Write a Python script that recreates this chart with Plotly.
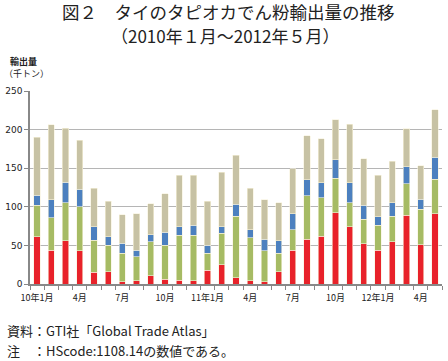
import plotly.graph_objects as go

months = list(range(29))  # Jan 2010 .. May 2012
red = [61, 44, 56, 43, 15, 16, 3, 4, 11, 6, 5, 4, 18, 25, 8, 4, 3, 16, 44, 58, 62, 92, 74, 52, 44, 55, 89, 51, 91]
green = [41, 42, 49, 57, 42, 34, 37, 31, 44, 44, 58, 59, 22, 41, 80, 56, 40, 24, 26, 56, 50, 45, 31, 32, 32, 33, 41, 46, 45]
blue = [13, 23, 27, 23, 17, 11, 13, 9, 9, 17, 11, 13, 10, 8, 15, 10, 15, 16, 21, 21, 19, 24, 26, 18, 11, 17, 22, 13, 28]
beige = [75, 97, 70, 63, 50, 46, 37, 47, 40, 50, 67, 65, 57, 71, 64, 54, 51, 49, 58, 57, 57, 52, 76, 60, 54, 54, 49, 43, 62]

tick_pos = [0, 3, 6, 9, 12, 15, 18, 21, 24, 27]
tick_labels = ["10年1月", "4月", "7月", "10月", "11年1月", "4月", "7月", "10月", "12年1月", "4月"]

series = [
    (red, "#e8222a"),
    (green, "#a6bb64"),
    (blue, "#4c80bf"),
    (beige, "#c7c2a4"),
]

fig = go.Figure()
for vals, col in series:
    fig.add_trace(go.Bar(
        x=months, y=vals, marker=dict(color=col, line=dict(color="#f6f1dc", width=0.6)),
        width=0.44, showlegend=False, hoverinfo="skip",
    ))

PL, PT, PW, PH = 30, 91, 412, 193
font_jp = "Noto Sans CJK JP"
fig.update_layout(
    barmode="stack",
    width=448, height=361,
    margin=dict(l=PL, r=6, t=PT, b=77),
    paper_bgcolor="white", plot_bgcolor="white",
    font=dict(family=font_jp, color="#222"),
    xaxis=dict(
        range=[-0.5, 28.5],
        tickmode="array", tickvals=tick_pos, ticktext=tick_labels,
        ticks="", showgrid=False, zeroline=False,
        showline=True, linecolor="#888", linewidth=1.5,
        tickfont=dict(size=9, family=font_jp, color="#222"),
        ticklabelstandoff=4,
        minor=dict(ticks="outside", tick0=-0.5, dtick=1, ticklen=4, tickcolor="#888", showgrid=False),
    ),
    yaxis=dict(
        range=[0, 250], tickvals=[0, 50, 100, 150, 200, 250],
        showgrid=True, gridcolor="#b5b5b5", gridwidth=1,
        showline=True, linecolor="#888", linewidth=1.5,
        ticks="outside", ticklen=4, tickcolor="#888",
        zeroline=False,
        tickfont=dict(size=9, family="DejaVu Sans", color="#222"),
    ),
)


def px(xp):  # page x -> paper
    return (xp - PL) / PW


def py(yp):  # page y -> paper
    return 1 - (yp - PT) / PH


fig.add_annotation(text="図２　タイのタピオカでん粉輸出量の推移", xref="paper", yref="paper", x=px(228),
                   y=py(11), xanchor="center", yanchor="middle", showarrow=False,
                   font=dict(size=17.5, family=font_jp, color="#222"))
fig.add_annotation(text="（2010年１月～2012年５月）", xref="paper", yref="paper", x=px(225),
                   y=py(36), xanchor="center", yanchor="middle", showarrow=False,
                   font=dict(size=17, family=font_jp, color="#222"))

fig.add_annotation(text="<b>輸出量</b>", xref="paper", yref="paper", x=px(8), xanchor="left",
                   y=py(62), yanchor="middle", showarrow=False, font=dict(size=9, family=font_jp))
fig.add_annotation(text="（千トン）", xref="paper", yref="paper", x=px(2), xanchor="left",
                   y=py(74), yanchor="middle", showarrow=False, font=dict(size=9, family=font_jp))

fig.add_annotation(text="資料：GTI社「Global Trade Atlas」", xref="paper", yref="paper", x=px(5),
                   xanchor="left", y=py(330), yanchor="middle", showarrow=False,
                   font=dict(size=13, family=font_jp))
fig.add_annotation(text="注　：HScode:1108.14の数値である。", xref="paper", yref="paper", x=px(5),
                   xanchor="left", y=py(350), yanchor="middle", showarrow=False,
                   font=dict(size=13, family=font_jp))

fig.write_html("out.html", config={"displayModeBar": False},
               post_script="document.body.style.margin='0px';")
